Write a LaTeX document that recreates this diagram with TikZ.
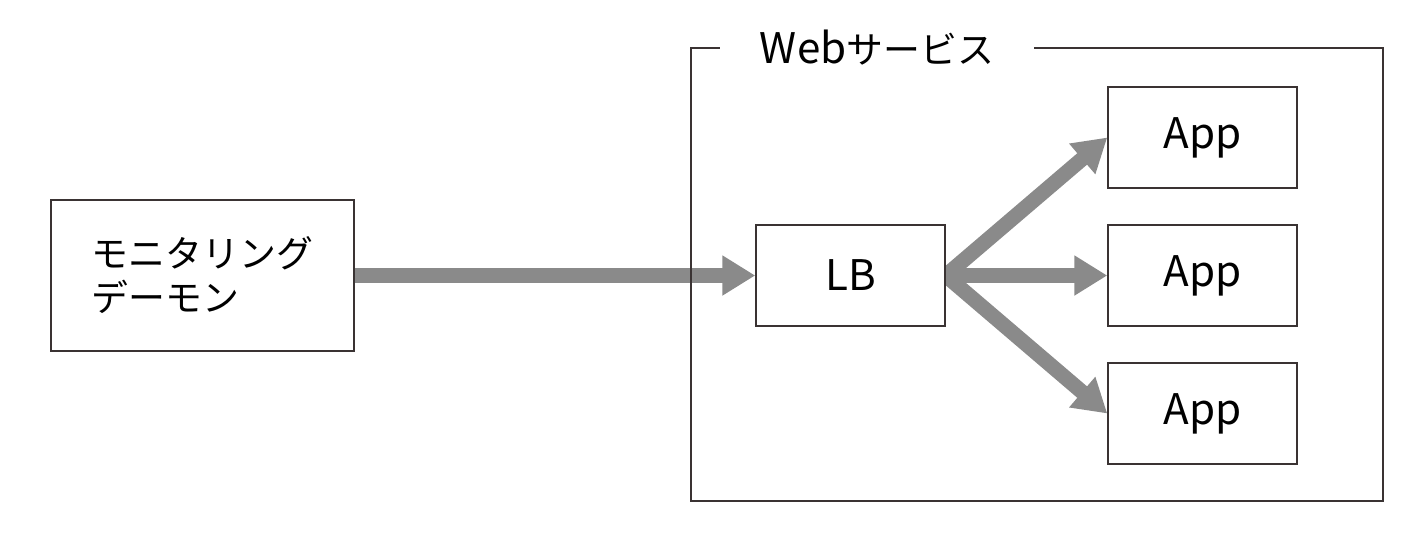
\documentclass[tikz,border=0pt]{standalone}
\usepackage{fontspec}
\setmainfont{Noto Sans CJK JP}
\usetikzlibrary{arrows.meta,backgrounds}

\definecolor{linegray}{HTML}{3A3333}
\definecolor{arrowgray}{HTML}{8A8A8A}

\tikzset{
	box/.style={draw=linegray, fill=white, line width=0.85pt, minimum width=3.78cm, minimum height=2.02cm, inner sep=0pt, font=\fontsize{24}{28}\selectfont},
	flow/.style={draw=arrowgray, line width=0.3cm, -{Triangle[length=0.66cm,width=0.76cm]}, arrowgray}
}

\begin{document}
\begin{tikzpicture}[x=0.02cm, y=-0.02cm]
			\useasboundingbox (0,0) rectangle (1420,552);
			% frame
			\draw[linegray, line width=0.85pt] (691,48) rectangle (1383,501);
			\node[fill=white, minimum width=6.3cm, inner sep=0pt, font=\fontsize{24}{28}\selectfont] (title) at (877,48) {Web{\fontsize{21}{25}\selectfont サービス}};
			% boxes
			\node[box, minimum width=6.06cm, minimum height=3.02cm, align=left, font=\fontsize{21}{25}\selectfont] (mon) at (202.5,275.5) {モニタリング\\デーモン};
			\node[box] (lb) at (850.5,275.5) {LB};
			\node[box] (app1) at (1202.5,137.5) {App};
			\node[box] (app2) at (1202.5,275.5) {App};
			\node[box] (app3) at (1202.5,413.5) {App};
			% arrows
			\begin{scope}[on background layer]
			\draw[flow] (mon) -- (lb);
			\draw[flow, shorten <=-0.3cm] (lb.east) -- (app1.west);
			\draw[flow, shorten <=-0.3cm] (lb.east) -- (app2.west);
			\draw[flow, shorten <=-0.3cm] (lb.east) -- (app3.west);
			\end{scope}
		\end{tikzpicture}
\end{document}
